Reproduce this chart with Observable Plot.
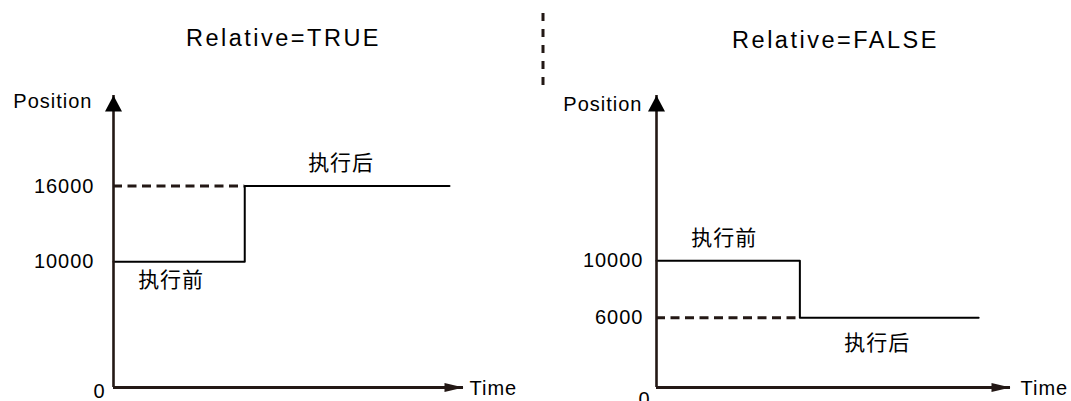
<!DOCTYPE html>
<html><head><meta charset="utf-8">
<script src="https://cdn.jsdelivr.net/npm/d3@7"></script>
<script src="https://cdn.jsdelivr.net/npm/@observablehq/plot@0.6"></script>
<style>
html,body{margin:0;padding:0;background:#fff;}
#wrap{position:relative;width:1071px;height:401px;overflow:hidden;background:#fff;}
#left,#right{position:absolute;top:0;}
#left{left:0;} #right{left:536px;}
</style></head><body>
<div id="wrap"><div id="left"></div><div id="right"></div></div>
<script>
// ---- content ----
const panelTitles = ["Relative=TRUE", "Relative=FALSE"];
const axisTitleY = "Position";
const axisTitleX = "Time";
const labelBefore = "执行前";
const labelAfter = "执行后";
const originLabel = "0";

// Relative=TRUE panel
const leftTimes = [0, 3.75, 9.6];       // start, switch, end
const leftBefore = 10000;
const leftAfter = 16000;
const leftTicks = [10000, 16000];
const leftPosMax = 23200;

// Relative=FALSE panel
const rightTimes = [0, 4.05, 9.1];
const rightBefore = 10000;
const rightAfter = 6000;
const rightTicks = [6000, 10000];
const rightPosMax = 20400;

const timeMax = 10;

// ---- drawing ----
const ink = "#231815";
const FONT = "'Liberation Sans', Arial, 'Noto Sans CJK SC', sans-serif";
const arrowUp = {draw(ctx){ctx.moveTo(0,0);ctx.lineTo(8.5,16);ctx.lineTo(-8.5,16);ctx.closePath();}};
const arrowRight = {draw(ctx){ctx.moveTo(0,0);ctx.lineTo(-19,4.5);ctx.lineTo(-19,-4.5);ctx.closePath();}};

function panel(cfg) {
  const [t0, t1, t2] = cfg.times;
  const steps = [
    {t: t0, v: cfg.before},
    {t: t1, v: cfg.after},
    {t: t2, v: cfg.after}
  ];
  const o = cfg.off;
  return Plot.plot({
    width: cfg.width, height: 401,
    marginTop: 0, marginRight: 0, marginBottom: 0, marginLeft: 0,
    x: {domain: [0, timeMax], range: cfg.xRange, axis: null},
    y: {type: cfg.yType, exponent: cfg.exponent, domain: [0, cfg.posMax], range: [387, 95], axis: null},
    style: {fontFamily: FONT, background: "#fff", overflow: "visible", color: "#000"},
    marks: [
      Plot.ruleY([cfg.after], {x1: t0, x2: t1, stroke: ink, strokeWidth: 3, strokeDasharray: "9,5.5"}),
      Plot.line(steps, {x: "t", y: "v", curve: "step-after", stroke: "#000", strokeWidth: 2}),
      Plot.ruleX([0], {y1: 0, y2: cfg.posMax, stroke: ink, strokeWidth: 2.6}),
      Plot.ruleY([0], {x1: 0, x2: timeMax, stroke: ink, strokeWidth: 2.8}),
      Plot.dot([{t: 0, v: cfg.posMax}], {x: "t", y: "v", symbol: arrowUp, r: 5, fill: "#000", stroke: "none"}),
      Plot.dot([{t: timeMax, v: 0}], {x: "t", y: "v", symbol: arrowRight, r: 5, fill: ink, stroke: "none"}),
      Plot.text(cfg.ticks, {x: () => 0, y: d => d, text: d => String(d), textAnchor: "end", dx: o.tickDx, fontSize: 20, fill: "#000"}),
      Plot.text([originLabel], {x: () => 0, y: () => 0, text: d => d, textAnchor: "end", dx: o.zeroDx, dy: o.zeroDy, fontSize: 20, fill: "#000"}),
      Plot.text([axisTitleY], {x: () => 0, y: () => cfg.posMax, text: d => d, textAnchor: "end", dx: o.posDx, dy: o.posDy, fontSize: 20, fill: "#000"}),
      Plot.text([axisTitleX], {x: () => timeMax, y: () => 0, text: d => d, textAnchor: "start", dx: o.timeDx, dy: 1, fontSize: 20, fill: "#000"}),
      Plot.text([cfg.title], {x: () => timeMax / 2, frameAnchor: "top", lineAnchor: "middle", dy: o.titleDy, dx: o.titleDx, text: d => d, fontSize: 23.5, fill: "#000"}),
      Plot.text([labelBefore], {x: () => (t0 + t1) / 2, y: () => cfg.before, text: d => d, dx: o.bDx, dy: o.bDy, fontSize: 21, fill: "#000"}),
      Plot.text([labelAfter], {x: () => (t1 + t2) / 2, y: () => cfg.after, text: d => d, dx: o.aDx, dy: o.aDy, fontSize: 21, fill: "#000"})
    ]
  });
}

const left = panel({
  width: 536, xRange: [113, 463], yType: "linear", exponent: 1,
  times: leftTimes, before: leftBefore, after: leftAfter, ticks: leftTicks, posMax: leftPosMax,
  title: panelTitles[0],
  off: {tickDx: -19, zeroDx: -8, zeroDy: 4, posDx: -21, posDy: 6, timeDx: 6, titleDy: 38, titleDx: -5,
        bDx: -8, bDy: 19, aDx: -6, aDy: -23}
});
const right = panel({
  width: 535, xRange: [120, 474], yType: "pow", exponent: 1.17,
  times: rightTimes, before: rightBefore, after: rightAfter, ticks: rightTicks, posMax: rightPosMax,
  title: panelTitles[1],
  off: {tickDx: -13, zeroDx: -6, zeroDy: 12, posDx: -14, posDy: 9, timeDx: 10, titleDy: 40, titleDx: 2,
        bDx: -4, bDy: -22, aDx: -12, aDy: 26}
});

for (const svg of [left, right]) {
  d3.select(svg).selectAll("text").style("letter-spacing", "1px");
  d3.select(svg).selectAll("text").filter(function(){ return panelTitles.includes(this.textContent); }).style("letter-spacing", "2.5px");
}
d3.select(right).append("line")
  .attr("x1", 7).attr("x2", 7).attr("y1", 13).attr("y2", 92)
  .attr("stroke", ink).attr("stroke-width", 3).attr("stroke-dasharray", "8,8");

document.getElementById("left").appendChild(left);
document.getElementById("right").appendChild(right);
</script>
</body></html>
